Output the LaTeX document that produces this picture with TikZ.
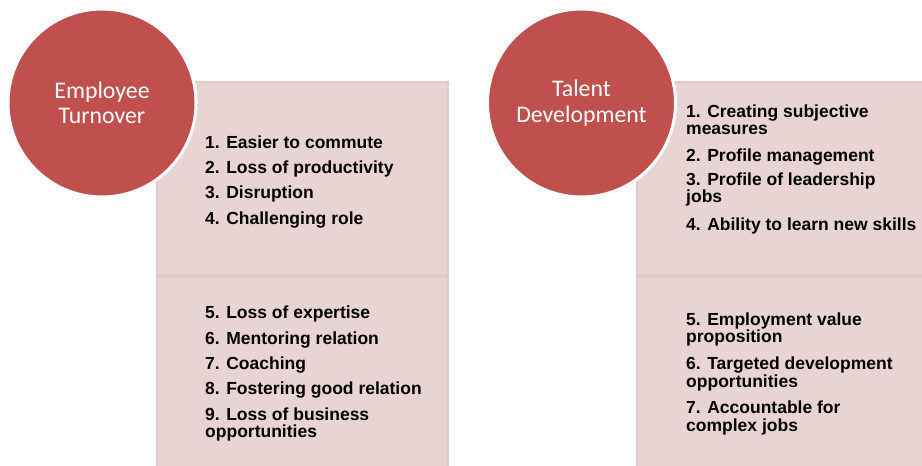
\documentclass[tikz,border=0pt]{standalone}
\usepackage{fontspec}
\newfontfamily\circlefont{Carlito}
\newfontfamily\listfont{Liberation Sans}
\definecolor{topicred}{HTML}{C0504D}
\definecolor{panelfill}{HTML}{E9D4D4}
\definecolor{panelline}{HTML}{E2C9C9}
% an entry that wraps onto a second line; its baseline is the first line's
\newcommand\wrapentry[2]{\begin{tabular}[t]{@{}l@{}}#1\\#2\end{tabular}}
\begin{document}
\begin{tikzpicture}[x=1pt,y=-1pt,
  panel/.style={fill=panelfill, draw=panelline, line width=1.2pt},
  topic/.style={circle, fill=topicred, draw=white, line width=3pt,
    minimum size=188pt, inner sep=0pt, text=white, align=center,
    font=\circlefont\fontsize{23.8}{25.4}\selectfont},
  entry/.style={anchor=base west, inner sep=0pt, text=black,
    font=\listfont\bfseries\fontsize{17.5}{17.6}\selectfont}
]
\useasboundingbox (0,0) rectangle (922,466);
\clip (0,0) rectangle (922,466);

% panels behind the two topics
\path[panel] (157,82) rectangle (448,275);
\path[panel] (157,277) rectangle (448,475);
\path[panel] (637,82) rectangle (930,275);
\path[panel] (637,277) rectangle (930,475);

% topics
\node[topic] (turnover) at (102,103) {Employee\\Turnover};
\node[topic] (talent) at (581.5,103) {Talent\\Development};

% Employee Turnover entries
\node[entry] (t1) at (205,148)   {1. Easier to commute};
\node[entry] (t2) at (205,173.3) {2. Loss of productivity};
\node[entry] (t3) at (205,198.7) {3. Disruption};
\node[entry] (t4) at (205,224)   {4. Challenging role};
\node[entry] (t5) at (205,318)   {5. Loss of expertise};
\node[entry] (t6) at (205,344)   {6. Mentoring relation};
\node[entry] (t7) at (205,369)   {7. Coaching};
\node[entry] (t8) at (205,394)   {8. Fostering good relation};
\node[entry] (t9) at (205,420)   {\wrapentry{9. Loss of business}{opportunities}};

% Talent Development entries
\node[entry] (d1) at (686,117.3) {\wrapentry{1. Creating subjective}{measures}};
\node[entry] (d2) at (686,161)   {2. Profile management};
\node[entry] (d3) at (686,185)   {\wrapentry{3. Profile of leadership}{jobs}};
\node[entry] (d4) at (686,230)   {4. Ability to learn new skills};
\node[entry] (d5) at (686,325)   {\wrapentry{5. Employment value}{proposition}};
\node[entry] (d6) at (686,369.3) {\wrapentry{6. Targeted development}{opportunities}};
\node[entry] (d7) at (686,413.3) {\wrapentry{7. Accountable for}{complex jobs}};
\end{tikzpicture}
\end{document}
